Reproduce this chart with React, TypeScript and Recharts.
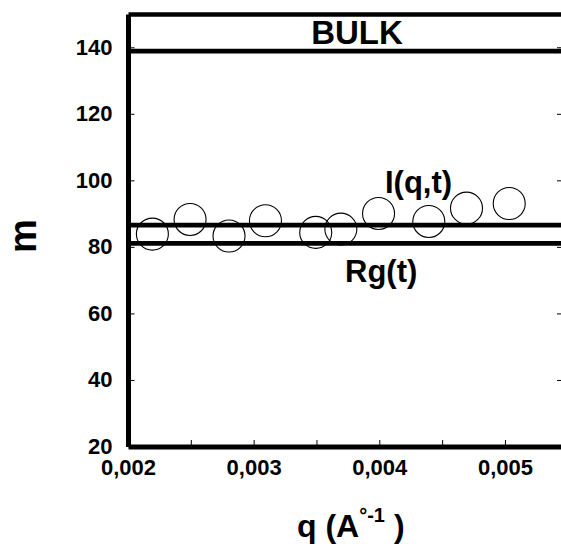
import React from 'react'
import { ScatterChart, Scatter, XAxis, YAxis, ReferenceLine } from 'recharts'

// measured points
const qValues = [0.00219, 0.00249, 0.0028, 0.00309, 0.00349, 0.00369, 0.00399, 0.00439, 0.00469, 0.00503]
const mValues = [84.0, 88.4, 83.4, 88.0, 84.5, 85.5, 90.2, 87.8, 91.8, 93.2]

// horizontal reference levels
const bulkLevel = 139
const iqtLevel = 86.7
const rgLevel = 81.2

const xTicks = [0.002, 0.0025, 0.003, 0.0035, 0.004, 0.0045, 0.005]
const yTicks = [20, 40, 60, 80, 100, 120, 140]

const FONT = '"Liberation Sans", Arial, sans-serif'

const points = qValues.map((q, i) => ({ q, m: mValues[i] }))

const isMajor = (v: number) => Math.round(v * 10000) % 10 === 0
const fmtQ = (v: number) => v.toFixed(3).replace('.', ',')

const BottomTick = (props: any) => {
  const { x, y, payload } = props
  return (
    <g>
      <line x1={x} y1={y} x2={x} y2={y - 7} stroke="#000" strokeWidth={1} />
      {isMajor(payload.value) && (
        <text x={x} y={y + 28} textAnchor="middle" fontFamily={FONT} fontWeight="bold" fontSize={22} fill="#000">
          {fmtQ(payload.value)}
        </text>
      )}
    </g>
  )
}

const TopTick = (props: any) => {
  const { x, y } = props
  return <line x1={x} y1={y} x2={x} y2={y + 7} stroke="#000" strokeWidth={1} />
}

const LeftTick = (props: any) => {
  const { x, y, payload } = props
  return (
    <g>
      <line x1={x} y1={y} x2={x + 6} y2={y} stroke="#000" strokeWidth={1} />
      <text x={x - 16} y={y + 7} textAnchor="end" fontFamily={FONT} fontWeight="bold" fontSize={22} fill="#000">
        {payload.value}
      </text>
    </g>
  )
}

const RightTick = (props: any) => {
  const { x, y } = props
  return <line x1={x} y1={y} x2={x - 5} y2={y} stroke="#000" strokeWidth={1} />
}

const lineLabel = (text: string, dx: number, dy: number, anchor: string, size: number) => (props: any) => {
  const vb = props.viewBox
  return (
    <text x={vb.x + dx} y={vb.y + dy} textAnchor={anchor} fontFamily={FONT} fontWeight="bold" fontSize={size} fill="#000">
      {text}
    </text>
  )
}

const XTitle = (props: any) => {
  const vb = props.viewBox
  return (
    <text x={297} y={vb.y + 90} fontFamily={FONT} fontWeight="bold" fontSize={32} fill="#000">
      q (A
      <tspan dx={0} dy={-15} fontSize={20}>°-1</tspan>
      <tspan dy={15} fontSize={32}> )</tspan>
    </text>
  )
}

const YTitle = () => {
  const cx = 36
  const cy = 236
  return (
    <text x={cx} y={cy} textAnchor="middle" transform={`rotate(-90, ${cx}, ${cy})`} fontFamily={FONT} fontWeight="bold" fontSize={38} fill="#000">
      m
    </text>
  )
}

const Ring = (props: any) => <circle cx={props.cx} cy={props.cy} r={16} fill="none" stroke="#000" strokeWidth={1.1} />

export default function App() {
  return (
    <div style={{ position: 'absolute', left: 0, top: 0, width: 561, height: 544, overflow: 'hidden', background: '#fff' }}>
      <ScatterChart width={563} height={544} margin={{ top: 13.5, left: 127.5, right: 0, bottom: 96 }}>
        <XAxis
          dataKey="q"
          type="number"
          domain={[0.002, 0.00545]}
          allowDataOverflow
          ticks={xTicks}
          interval={0}
          height={1}
          tickSize={0}
          tickMargin={0}
          tickLine={false}
          axisLine={{ stroke: '#000', strokeWidth: 5 }}
          tick={<BottomTick />}
          label={<XTitle />}
        />
        <XAxis
          xAxisId="top"
          orientation="top"
          type="number"
          domain={[0.002, 0.00545]}
          allowDataOverflow
          ticks={xTicks}
          interval={0}
          height={1}
          tickSize={0}
          tickMargin={0}
          tickLine={false}
          axisLine={{ stroke: '#000', strokeWidth: 4.5 }}
          tick={<TopTick />}
        />
        <YAxis
          dataKey="m"
          type="number"
          domain={[20, 150]}
          allowDataOverflow
          ticks={yTicks}
          interval={0}
          width={1}
          tickSize={0}
          tickMargin={0}
          tickLine={false}
          axisLine={{ stroke: '#000', strokeWidth: 5 }}
          tick={<LeftTick />}
          label={<YTitle />}
        />
        <YAxis
          yAxisId="right"
          orientation="right"
          type="number"
          domain={[20, 150]}
          allowDataOverflow
          ticks={yTicks}
          interval={0}
          width={1}
          tickSize={0}
          tickMargin={0}
          tickLine={false}
          axisLine={false}
          tick={<RightTick />}
        />
        <ReferenceLine y={bulkLevel} stroke="#000" strokeWidth={4.7} label={lineLabel('BULK', 228.5, -7, 'middle', 33)} />
        <ReferenceLine y={iqtLevel} stroke="#000" strokeWidth={4.7} label={lineLabel('I(q,t)', 256.5, -32, 'start', 31)} />
        <ReferenceLine y={rgLevel} stroke="#000" strokeWidth={4.7} label={lineLabel('Rg(t)', 216.5, 39, 'start', 31)} />
        <Scatter data={points} shape={<Ring />} isAnimationActive={false} />
      </ScatterChart>
    </div>
  )
}
